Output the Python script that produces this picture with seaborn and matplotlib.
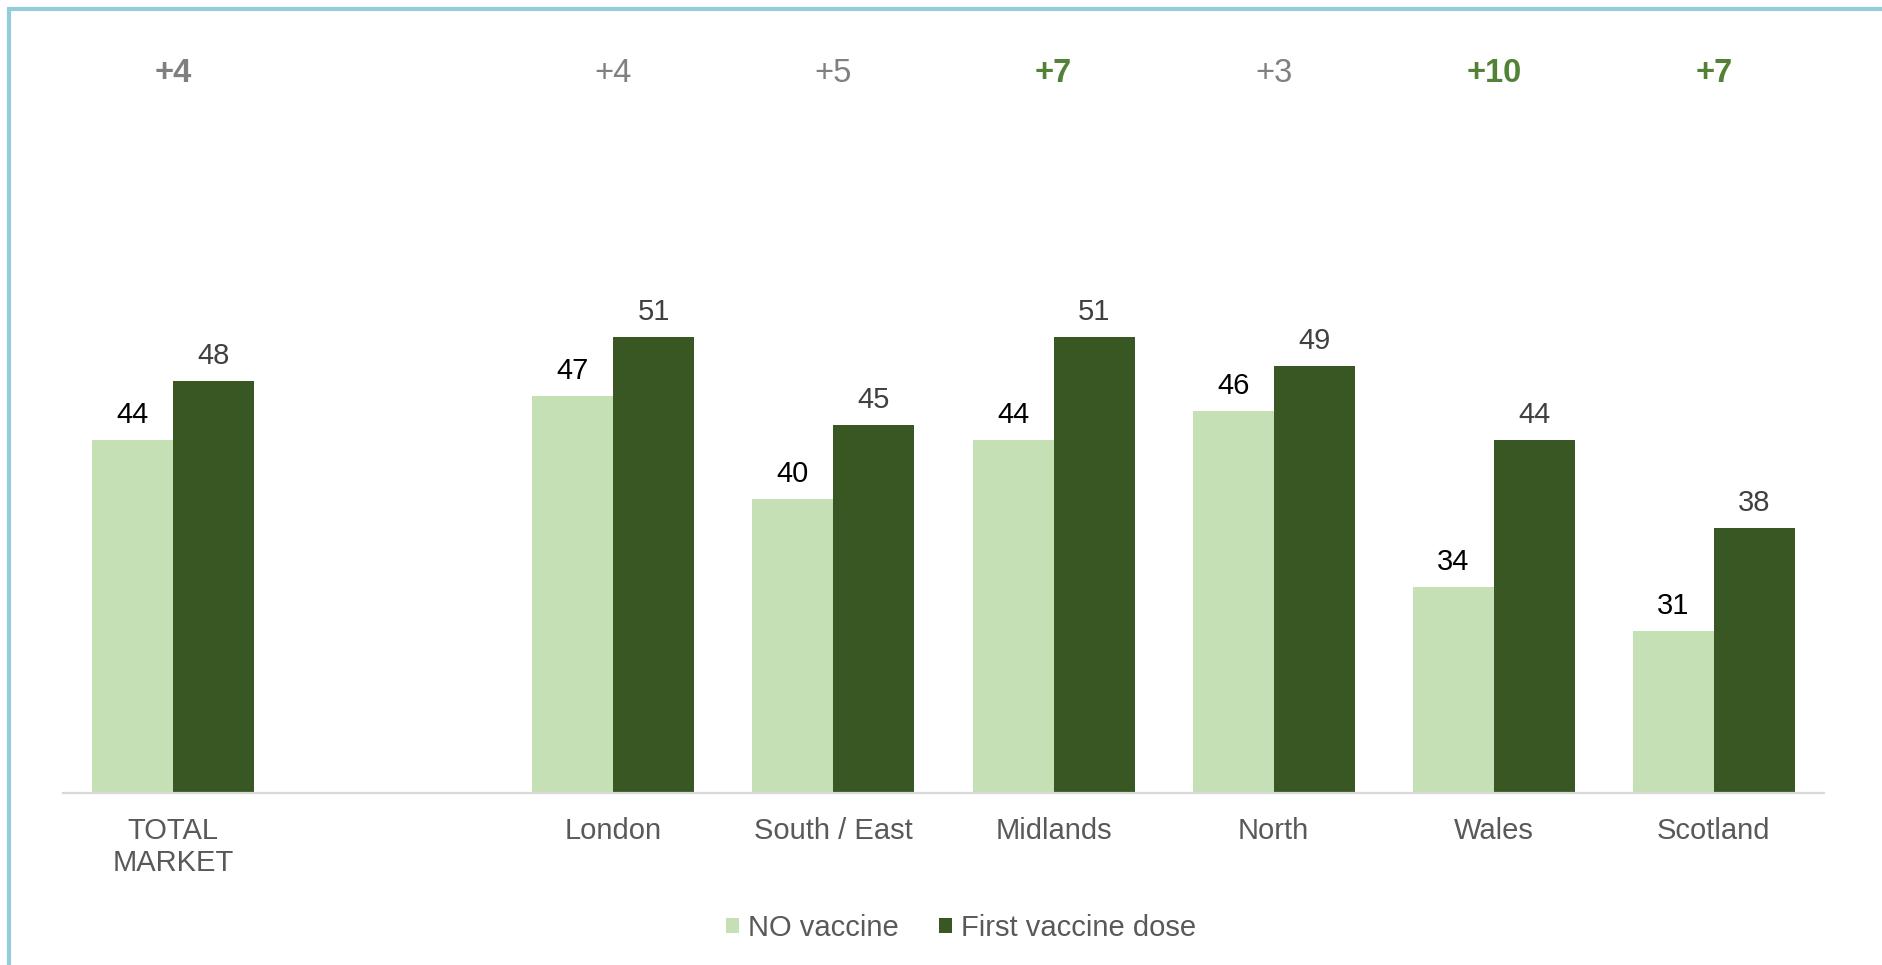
import numpy as np
import pandas as pd
import seaborn as sns
import matplotlib.pyplot as plt
from matplotlib.patches import Rectangle

regions = ["TOTAL\nMARKET", " ", "London", "South / East", "Midlands", "North", "Wales", "Scotland"]
no_vaccine = [44, np.nan, 47, 40, 44, 46, 34, 31]
first_dose = [48, np.nan, 51, 45, 51, 49, 44, 38]
diff_labels = ["+4", "", "+4", "+5", "+7", "+3", "+10", "+7"]
diff_bold = [True, False, False, False, True, False, True, True]
diff_colors = ["#7F7F7F", "#7F7F7F", "#808080", "#808080", "#538135", "#808080", "#538135", "#538135"]

series = ["NO vaccine", "First vaccine dose"]
palette = {"NO vaccine": "#C5E0B4", "First vaccine dose": "#385723"}

df = pd.DataFrame({
    "Region": regions * 2,
    "Series": [series[0]] * len(regions) + [series[1]] * len(regions),
    "Value": no_vaccine + first_dose,
})

sns.set_style("white")
plt.rcParams["font.family"] = ["Liberation Sans", "DejaVu Sans"]

fig = plt.figure(figsize=(18.83, 9.65), dpi=100)
ax = fig.add_axes([63 / 1883, 1 - 793 / 965, 1761 / 1883, (793 - 40) / 965])

sns.barplot(data=df, x="Region", y="Value", hue="Series", order=regions,
            hue_order=series, palette=palette, width=0.736, gap=0,
            saturation=1, errorbar=None, linewidth=0, ax=ax, legend=True)

ax.set_ylim(20, 71.2)
ax.set_xlim(-0.5, len(regions) - 0.5)

label_colors = ["#000000", "#404040"]
for cont, col in zip(ax.containers, label_colors):
    vals = [v for v in cont.datavalues]
    labs = ["" if np.isnan(v) else f"{v:.0f}" for v in vals]
    ax.bar_label(cont, labels=labs, padding=8, fontsize=21, color=col)

for i, (t, b, c) in enumerate(zip(diff_labels, diff_bold, diff_colors)):
    ax.text(i, 68.9, t, ha="center", va="center", fontsize=23.5,
            fontweight="bold" if b else "normal", color=c)

for s in ["top", "right", "left"]:
    ax.spines[s].set_visible(False)
ax.spines["bottom"].set_color("#D9D9D9")
ax.spines["bottom"].set_linewidth(1.6)
ax.set_yticks([])
ax.set_xlabel("")
ax.set_ylabel("")
ax.tick_params(axis="x", length=0, pad=17, labelsize=21, labelcolor="#595959")

handles, labels = ax.get_legend_handles_labels()
ax.get_legend().remove()
fig.legend(handles, labels, loc="center", bbox_to_anchor=(961 / 1883, 1 - 928 / 965),
           ncol=2, frameon=False, fontsize=21, labelcolor="#595959",
           handlelength=0.45, handleheight=0.45, handletextpad=0.3, columnspacing=1.4)

fig.patches.append(Rectangle((9 / 1883, -0.1), 1.2, 1.1 - 9 / 965, transform=fig.transFigure,
                             fill=False, edgecolor="#92CDDC", linewidth=3))

fig.savefig("out.png", dpi=100)
